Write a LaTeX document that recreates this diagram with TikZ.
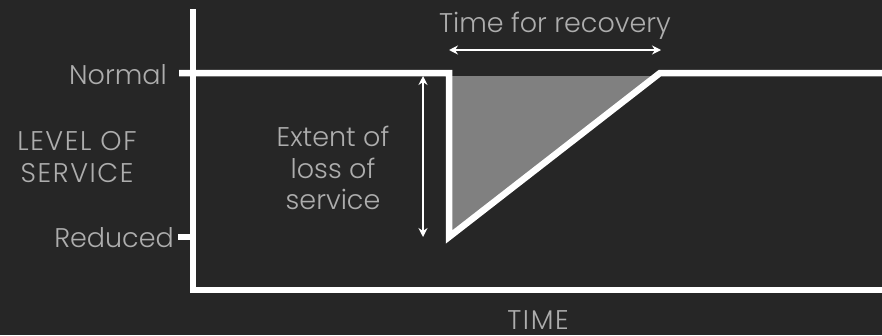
\documentclass[tikz,border=0pt]{standalone}
\usepackage{fontspec}
\setmainfont{Poppins}[UprightFont=* Light]
\usetikzlibrary{arrows.meta}
\definecolor{bg}{HTML}{262626}
\definecolor{labelgray}{HTML}{ADADAD}
\definecolor{lossfill}{HTML}{808080}
\tikzset{
  axisline/.style={white, line width=6pt},
  serviceline/.style={white, line width=6.5pt, line join=miter},
  dimarrow/.style={white, line width=1.6pt, {Stealth[length=9pt,width=9pt]}-{Stealth[length=9pt,width=9pt]}},
  lbl/.style={text=labelgray, font=\fontsize{27}{32}\selectfont, inner sep=0pt, anchor=base},
  capslbl/.style={lbl, font=\fontsize{27}{32}\selectfont\addfontfeature{LetterSpace=6}},
}
\begin{document}
\begin{tikzpicture}[x=1pt,y=-1pt]
  \fill[bg] (0,0) rectangle (882,335);
  \useasboundingbox (0,0) rectangle (882,335);

  % key points of the service curve
  \coordinate (ystart) at (179,73);
  \coordinate (drop) at (449,73);
  \coordinate (low) at (449,237);
  \coordinate (back) at (660,73);
  \coordinate (yend) at (882,73);

  % loss area
  \fill[lossfill] (452,76) -- (452,231) -- (655,76) -- cycle;

  % axes
  \coordinate (origin) at (193,290);
  \coordinate (ytop) at (193,12);
  \coordinate (xend) at (882,290);
  \draw[axisline, line cap=rect] (ytop) -- (origin) -- (xend);
  \coordinate (redtick) at (178,237);
  \coordinate (redaxis) at (193,237);
  \draw[axisline] (redtick) -- (redaxis);

  % level of service over time
  \draw[serviceline] (ystart) -- (drop) -- (low) -- (back) -- (yend);

  % dimension arrows
  \coordinate (extTop) at (423,76);
  \coordinate (extBot) at (423,237);
  \draw[dimarrow] (extTop) -- (extBot);
  \coordinate (recL) at (449,50);
  \coordinate (recR) at (661,50);
  \draw[dimarrow] (recL) -- (recR);

  % labels
  \node[lbl, anchor=base east] (normal) at (167,84) {Normal};
  \node[lbl, anchor=base east] (reduced) at (174,247) {Reduced};
  \node[capslbl] (lvl1) at (77,150) {LEVEL OF};
  \node[capslbl] (lvl2) at (77,182) {SERVICE};
  \node[lbl] (ext1) at (333,146) {Extent of};
  \node[lbl] (ext2) at (333,178) {loss of};
  \node[lbl] (ext3) at (333,209) {service};
  \node[lbl] (rec) at (555,32) {Time for recovery};
  \node[capslbl] (time) at (538,329) {TIME};
\end{tikzpicture}
\end{document}
